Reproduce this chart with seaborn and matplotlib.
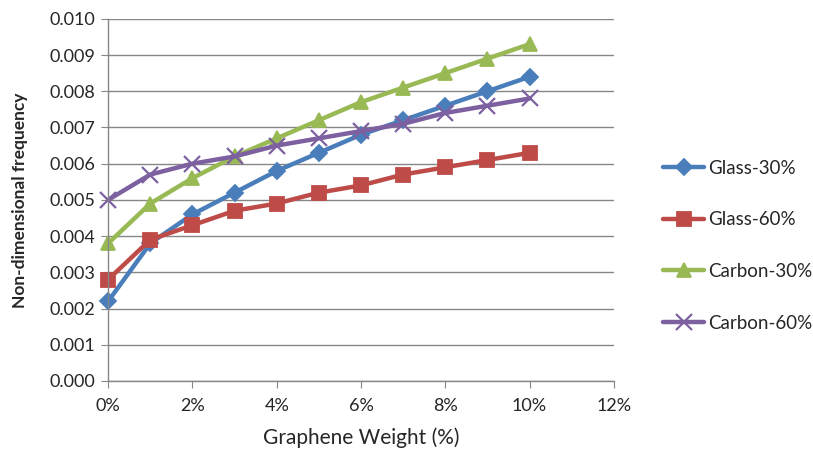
import matplotlib
matplotlib.use("Agg")
import matplotlib.pyplot as plt
import seaborn as sns
import pandas as pd
from matplotlib.ticker import FuncFormatter, MultipleLocator

weights = [0, 1, 2, 3, 4, 5, 6, 7, 8, 9, 10]
glass_30 = [0.0022, 0.0038, 0.0046, 0.0052, 0.0058, 0.0063, 0.0068, 0.0072, 0.0076, 0.0080, 0.0084]
glass_60 = [0.0028, 0.0039, 0.0043, 0.0047, 0.0049, 0.0052, 0.0054, 0.0057, 0.0059, 0.0061, 0.0063]
carbon_30 = [0.0038, 0.0049, 0.0056, 0.0062, 0.0067, 0.0072, 0.0077, 0.0081, 0.0085, 0.0089, 0.0093]
carbon_60 = [0.0050, 0.0057, 0.0060, 0.0062, 0.0065, 0.0067, 0.0069, 0.0071, 0.0074, 0.0076, 0.0078]
series_names = ["Glass-30%", "Glass-60%", "Carbon-30%", "Carbon-60%"]

sns.set_style("white")
plt.rcParams['font.family'] = ['Lato', 'DejaVu Sans']

df = pd.DataFrame({
    "w": weights * 4,
    "v": glass_30 + glass_60 + carbon_30 + carbon_60,
    "s": sum([[n] * len(weights) for n in series_names], []),
})

colors = {"Glass-30%": "#4A7EBB", "Glass-60%": "#BE4B48",
          "Carbon-30%": "#98B954", "Carbon-60%": "#7D60A0"}
markers = {"Glass-30%": "D", "Glass-60%": "s", "Carbon-30%": "^", "Carbon-60%": "x"}
msize = {"Glass-30%": 8, "Glass-60%": 10, "Carbon-30%": 10, "Carbon-60%": 11}

fig = plt.figure(figsize=(8.13, 4.59), dpi=100)
ax = fig.add_axes([0.133, 0.170, 0.622, 0.789])

for name in series_names:
    sub = df[df.s == name]
    sns.lineplot(data=sub, x="w", y="v", ax=ax, color=colors[name],
                 marker=markers[name], markersize=msize[name], linewidth=3.2,
                 markeredgecolor=colors[name], markeredgewidth=1.3 if name != "Carbon-60%" else 1.6,
                 label=name, legend=False, clip_on=False)

ax.set_xlim(0, 12)
ax.set_ylim(0, 0.010)
ax.xaxis.set_major_locator(MultipleLocator(2))
ax.yaxis.set_major_locator(MultipleLocator(0.001))
ax.xaxis.set_major_formatter(FuncFormatter(lambda v, p: f"{int(round(v))}%"))
ax.yaxis.set_major_formatter(FuncFormatter(lambda v, p: f"{v:.3f}"))
ax.grid(axis="y", color="#868686", linewidth=1)
ax.grid(axis="x", visible=False)
for s in ["top", "right"]:
    ax.spines[s].set_visible(False)
for s in ["left", "bottom"]:
    ax.spines[s].set_color("#868686")
    ax.spines[s].set_linewidth(1)
ax.tick_params(axis="both", which="major", length=5, color="#868686",
               direction="out", labelsize=13, bottom=True, left=True)
ax.tick_params(axis="x", pad=7)
ax.tick_params(axis="y", pad=4)
ax.set_xlabel("Graphene Weight (%)", fontsize=15, labelpad=10)
ax.set_ylabel("Non-dimensional frequency", fontsize=12.5, fontweight="bold", labelpad=16)

handles, labels = ax.get_legend_handles_labels()
fig.legend(handles, labels, loc="center left", bbox_to_anchor=(0.795, 0.465),
           frameon=False, fontsize=13.5, labelspacing=1.85, handlelength=2.2,
           handletextpad=0.2)

fig.savefig("out.png", dpi=100)
